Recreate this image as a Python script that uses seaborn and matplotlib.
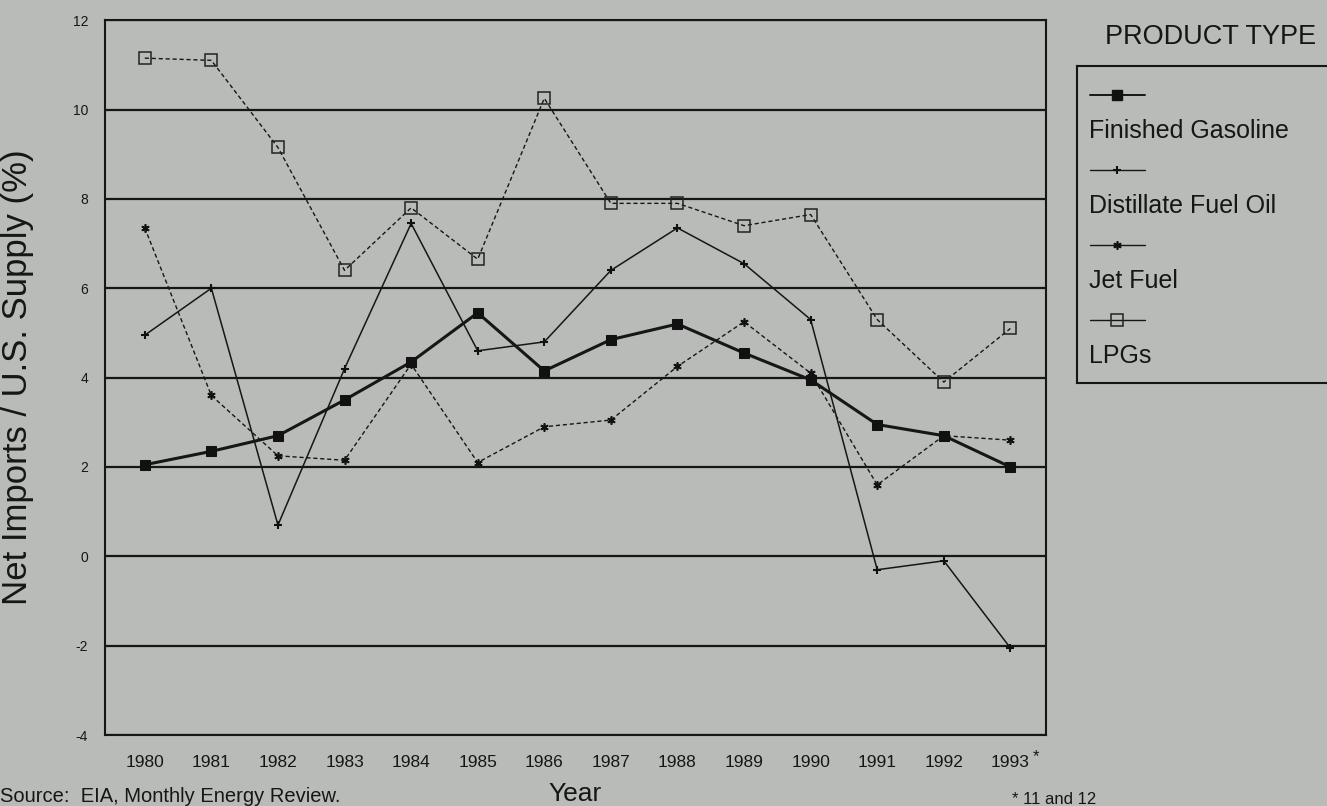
import pandas as pd
import matplotlib.pyplot as plt
import seaborn as sns
from matplotlib.lines import Line2D

# 数据：年度净进口占美国供应量的百分比
years = list(range(1980, 1994))
gasoline = [2.05, 2.35, 2.7, 3.5, 4.35, 5.45, 4.15, 4.85, 5.2, 4.55, 3.95, 2.95, 2.7, 2.0]
distillate = [4.95, 6.0, 0.7, 4.2, 7.45, 4.6, 4.8, 6.4, 7.35, 6.55, 5.3, -0.3, -0.1, -2.05]
jet_fuel = [7.35, 3.6, 2.25, 2.15, 4.3, 2.1, 2.9, 3.05, 4.25, 5.25, 4.1, 1.6, 2.7, 2.6]
lpgs = [11.15, 11.1, 9.15, 6.4, 7.8, 6.65, 10.25, 7.9, 7.9, 7.4, 7.65, 5.3, 3.9, 5.1]

series_names = ['Finished Gasoline', 'Distillate Fuel Oil', 'Jet Fuel', 'LPGs']
year_labels = [str(y) for y in years]
y_ticks = [-4, -2, 0, 2, 4, 6, 8, 10, 12]

df = pd.DataFrame({'Year': years * 4,
                   'Value': gasoline + distillate + jet_fuel + lpgs,
                   'Product': sum([[n] * len(years) for n in series_names], [])})

# 每条线的样式
styles = {
    'Finished Gasoline': dict(linestyle='-', linewidth=2.2, marker='s', markersize=7.5,
                              markerfacecolor='#111111', markeredgecolor='#111111'),
    'Distillate Fuel Oil': dict(linestyle='-', linewidth=1.1, marker='+', markersize=6,
                                markeredgewidth=1.5, markeredgecolor='#111111'),
    'Jet Fuel': dict(linestyle=(0, (3, 2)), linewidth=1.0, marker=(6, 2, 0), markersize=6,
                     markeredgewidth=1.2, markeredgecolor='#111111'),
    'LPGs': dict(linestyle=(0, (3, 2)), linewidth=1.0, marker='s', markersize=8,
                 markerfacecolor='none', markeredgecolor='#222222', markeredgewidth=1.1),
}

bg = '#b8bbb7'
ink = '#161616'

sns.set_style('white')
plt.rcParams['font.family'] = ['Liberation Sans', 'DejaVu Sans']

fig = plt.figure(figsize=(13.27, 8.06), dpi=100, facecolor=bg)
ax = fig.add_axes([0.079, 0.088, 0.709, 0.887])
ax.set_facecolor(bg)

for name in series_names:
    sub = df[df['Product'] == name]
    sns.lineplot(data=sub, x='Year', y='Value', ax=ax, color=ink, legend=False, **styles[name])

# 坐标轴
ax.set_xlim(1979.4, 1993.53)
ax.set_ylim(-4, 12)
ax.set_xticks(years)
ax.set_xticklabels(year_labels, fontsize=12.5, color=ink)
ax.set_yticks(y_ticks)
ax.set_yticklabels([str(t) for t in y_ticks], fontsize=10, color=ink)
ax.tick_params(axis='x', direction='out', length=8, width=1.2, color=ink, pad=6)
ax.tick_params(axis='y', direction='out', length=10, width=1.5, color=ink, pad=2)
ax.grid(True, axis='y', color=ink, linewidth=1.6)
ax.set_axisbelow(True)
for sp in ax.spines.values():
    sp.set_visible(True)
    sp.set_color(ink)
    sp.set_linewidth(1.5)

# 1993 旁的星号
ax.annotate('*', xy=(years[-1], 0), xycoords=('data', 'axes fraction'),
            xytext=(16, -10), textcoords='offset points', fontsize=12,
            color=ink, ha='left', va='top')

ax.set_xlabel('Year', fontsize=19, color=ink, labelpad=9)
ax.set_ylabel('Net Imports / U.S. Supply (%)', fontsize=25, color=ink, labelpad=28)

# 图例（标记在文字上方）
fig.text(1105 / 1327, 1 - 37 / 806, 'PRODUCT TYPE', fontsize=19.5, color=ink,
         ha='left', va='center')
lax = fig.add_axes([1077 / 1327, 1 - 383 / 806, 270 / 1327, 317 / 806])
lax.set_facecolor('none')
lax.set_xlim(0, 270)
lax.set_ylim(317, 0)
lax.set_xticks([])
lax.set_yticks([])
for sp in lax.spines.values():
    sp.set_color(ink)
    sp.set_linewidth(1.5)
for i, name in enumerate(series_names):
    hy = 29 + i * 75
    st = styles[name]
    lax.add_line(Line2D([13, 68], [hy, hy], color=ink, linestyle='-',
                        linewidth=1.4 if i == 0 else 1.0))
    mk = {k: v for k, v in st.items() if k.startswith('marker')}
    lax.add_line(Line2D([40], [hy], color=ink, linestyle='none', **mk))
    lax.text(12, hy + 36, name, fontsize=18, color=ink, ha='left', va='center')

# 底部注释
fig.text(0.0, 1 - 797 / 806, 'Source:  EIA, Monthly Energy Review.', fontsize=14.5,
         color=ink, ha='left', va='center')
fig.text(1012 / 1327, 1 - 799 / 806, '* 11 and 12', fontsize=12, color=ink,
         ha='left', va='center')

plt.savefig('out.png', dpi=100, facecolor=bg)
